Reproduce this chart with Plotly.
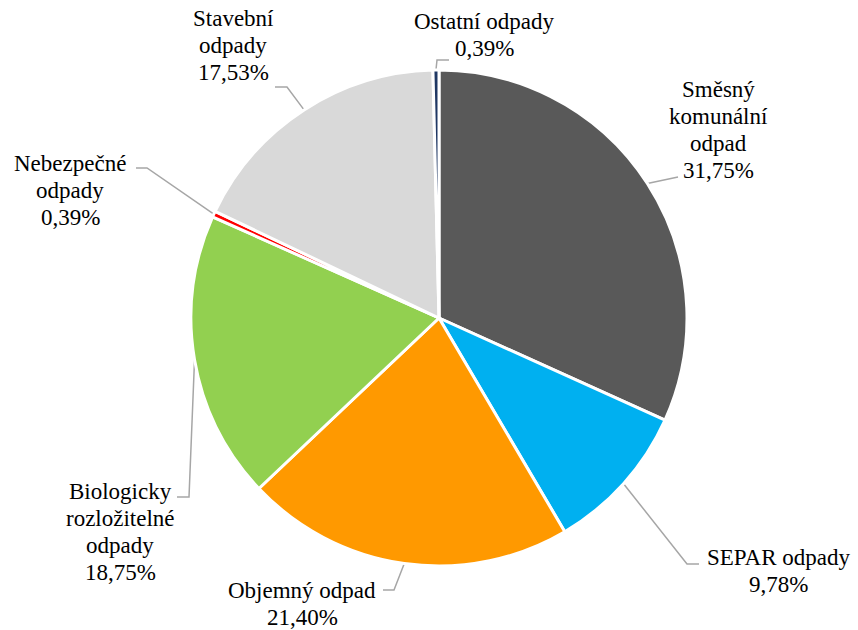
import math
import plotly.graph_objects as go

# waste categories, shares in %
labels = ["Směsný komunální odpad", "SEPAR odpady", "Objemný odpad",
          "Biologicky rozložitelné odpady", "Nebezpečné odpady",
          "Stavební odpady", "Ostatní odpady"]
values = [31.75, 9.78, 21.40, 18.75, 0.39, 17.53, 0.39]
label_lines = [["Směsný", "komunální", "odpad"], ["SEPAR odpady"], ["Objemný odpad"],
               ["Biologicky", "rozložitelné", "odpady"], ["Nebezpečné", "odpady"],
               ["Stavební", "odpady"], ["Ostatní odpady"]]
colors = ["#595959", "#00B0F0", "#FF9900", "#92D050", "#FF0000", "#D9D9D9", "#203864"]

W, H = 858, 630
cx, cy, R = 439, 318, 248

# label placement (pixel layout): text center x, first baseline y, leader elbow points
label_pos = [
    (718, 96, [(678, 177)]),
    (778, 564, [(687, 564), (699, 564)]),
    (302, 597, [(394, 590), (383, 590)]),
    (120, 498, [(189, 497), (177, 497)]),
    (70, 170, [(147, 168), (136, 168)]),
    (233, 25, [(287, 87), (275, 87)]),
    (484, 28, [(437, 60), (449, 60)]),
]
line_gap = 27
fsize = 23

fig = go.Figure()
fig.add_trace(go.Pie(
    labels=labels, values=values, sort=False, direction="clockwise", rotation=0,
    marker=dict(colors=colors, line=dict(color="white", width=3)),
    textinfo="none", hoverinfo="label+percent", showlegend=False,
    domain=dict(x=[(cx - R) / W, (cx + R) / W], y=[1 - (cy + R) / H, 1 - (cy - R) / H]),
))

total = sum(values)
cum = 0
annotations = []
for i, v in enumerate(values):
    mid = (cum + v / 2) / total * 2 * math.pi
    cum += v
    sx = cx + R * math.sin(mid)
    sy = cy - R * math.cos(mid)
    tx, ty, pts = label_pos[i]
    xs = [sx] + [p[0] for p in pts]
    ys = [sy] + [p[1] for p in pts]
    fig.add_trace(go.Scatter(x=xs, y=ys, mode="lines", line=dict(color="#A6A6A6", width=1.5),
                             hoverinfo="skip", showlegend=False))
    lines = label_lines[i] + [f"{v:.2f}%".replace(".", ",")]
    for k, t in enumerate(lines):
        annotations.append(dict(
            x=tx, y=ty + k * line_gap - 7, xref="x", yref="y", text=t, showarrow=False,
            xanchor="center", yanchor="middle",
            font=dict(family="Liberation Serif", size=fsize, color="black"),
        ))

fig.update_layout(
    width=W, height=H, margin=dict(l=0, r=0, t=0, b=0),
    font=dict(family="Liberation Serif"),
    paper_bgcolor="white", plot_bgcolor="rgba(0,0,0,0)",
    xaxis=dict(range=[0, W], visible=False, fixedrange=True),
    yaxis=dict(range=[H, 0], visible=False, fixedrange=True),
    annotations=annotations,
)

fig.write_html("out.html", config={"displayModeBar": False},
               post_script="document.body.style.margin='0px';")
